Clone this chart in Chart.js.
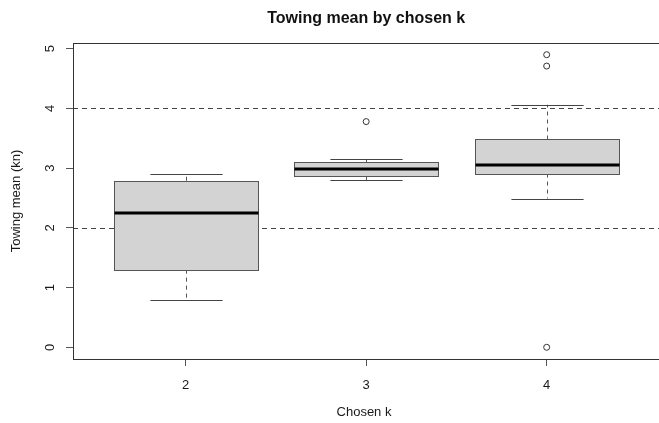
<!DOCTYPE html>
<html><head><meta charset="utf-8">
<script src="https://cdn.jsdelivr.net/npm/chart.js@4.4.1/dist/chart.umd.min.js"></script>
<style>html,body{margin:0;padding:0;background:#fff}#wrap{width:659px;height:423px}</style>
</head><body><div id="wrap"><canvas id="c" width="659" height="423"></canvas></div>
<script>
const categories = ['2', '3', '4'];
const positions = [2, 3, 4];
const whiskerLow = [0.8, 2.8, 2.49];
const q1 = [1.3, 2.87, 2.91];
const median = [2.25, 2.99, 3.05];
const q3 = [2.79, 3.1, 3.48];
const whiskerHigh = [2.9, 3.15, 4.06];
const outlierGroup = [3, 4, 4, 4];
const outlierValue = [3.78, 4.9, 4.71, 0.0];
const yTicks = [0, 1, 2, 3, 4, 5];
const refLines = [2, 4];
const titleText = 'Towing mean by chosen k';
const xTitle = 'Chosen k';
const yTitle = 'Towing mean (kn)';

const FONT = '"Liberation Sans", Arial, Helvetica, sans-serif';

const boxPlugin = {
  id: 'boxes',
  beforeDatasetsDraw(chart) {
    const {ctx, chartArea: a} = chart;
    const xs = chart.scales.x, ys = chart.scales.y;
    ctx.save();
    ctx.beginPath();
    ctx.rect(a.left, a.top, a.right - a.left + 10, a.bottom - a.top);
    ctx.clip();
    // reference lines
    ctx.strokeStyle = '#444';
    ctx.lineWidth = 1;
    ctx.setLineDash([5, 4]);
    refLines.forEach(v => {
      const y = Math.round(ys.getPixelForValue(v)) + 0.5;
      ctx.beginPath(); ctx.moveTo(a.left, y); ctx.lineTo(a.right + 10, y); ctx.stroke();
    });
    positions.forEach((p, i) => {
      const xc = Math.round(xs.getPixelForValue(p)) + 0.5;
      const hw = xs.getPixelForValue(p + 0.4) - xs.getPixelForValue(p);
      const cw = hw / 2;
      const yLo = ys.getPixelForValue(whiskerLow[i]);
      const yQ1 = ys.getPixelForValue(q1[i]);
      const yMed = ys.getPixelForValue(median[i]);
      const yQ3 = ys.getPixelForValue(q3[i]);
      const yHi = ys.getPixelForValue(whiskerHigh[i]);
      // whiskers
      ctx.strokeStyle = '#555';
      ctx.lineWidth = 1;
      ctx.setLineDash([4, 4]);
      ctx.beginPath(); ctx.moveTo(xc, yQ3); ctx.lineTo(xc, yHi); ctx.stroke();
      ctx.beginPath(); ctx.moveTo(xc, yQ1); ctx.lineTo(xc, yLo); ctx.stroke();
      ctx.setLineDash([]);
      ctx.strokeStyle = '#444';
      ctx.beginPath(); ctx.moveTo(xc - cw, Math.round(yHi) + 0.5); ctx.lineTo(xc + cw, Math.round(yHi) + 0.5); ctx.stroke();
      ctx.beginPath(); ctx.moveTo(xc - cw, Math.round(yLo) + 0.5); ctx.lineTo(xc + cw, Math.round(yLo) + 0.5); ctx.stroke();
      // box
      const bx = Math.round(xc - hw) + 0.5, bw = Math.round(2 * hw);
      const by = Math.round(yQ3) + 0.5, bh = Math.round(yQ1) - Math.round(yQ3);
      ctx.fillStyle = '#d3d3d3';
      ctx.fillRect(bx, by, bw, bh);
      ctx.strokeStyle = '#555';
      ctx.strokeRect(bx, by, bw, bh);
      // median
      ctx.strokeStyle = '#000';
      ctx.lineWidth = 3;
      ctx.beginPath(); ctx.moveTo(bx, Math.round(yMed)); ctx.lineTo(bx + bw, Math.round(yMed)); ctx.stroke();
    });
    ctx.restore();
  },
  afterDraw(chart) {
    const {ctx, chartArea: a} = chart;
    const xs = chart.scales.x;
    ctx.save();
    // frame (right side lies outside the canvas)
    ctx.strokeStyle = '#333';
    ctx.lineWidth = 1;
    ctx.strokeRect(Math.round(a.left) + 0.5, Math.round(a.top) + 0.5, a.right - a.left + 20, Math.round(a.bottom) - Math.round(a.top));
    // title centered over the plot
    ctx.fillStyle = '#111';
    ctx.font = 'bold 16px ' + FONT;
    ctx.textAlign = 'center';
    ctx.textBaseline = 'middle';
    ctx.fillText(titleText, xs.getPixelForValue(positions[1]), 19);
    ctx.restore();
  }
};

new Chart(document.getElementById('c'), {
  type: 'scatter',
  data: {
    datasets: [{
      data: outlierGroup.map((g, i) => ({x: g, y: outlierValue[i]})),
      pointRadius: 3,
      pointHoverRadius: 3,
      pointBorderWidth: 1,
      pointBorderColor: '#333',
      pointBackgroundColor: 'rgba(0,0,0,0)'
    }]
  },
  options: {
    responsive: false,
    devicePixelRatio: 1,
    animation: false,
    layout: {padding: {top: 43, left: 0, right: 0, bottom: 0}},
    plugins: {legend: {display: false}, title: {display: false}, tooltip: {enabled: false}},
    scales: {
      x: {
        type: 'linear', min: 1.376, max: 4.6,
        afterBuildTicks: s => { s.ticks = positions.map(v => ({value: v})); },
        afterFit: s => { s.height = 64; },
        ticks: {
          callback: (v, i) => categories[i],
          padding: 12, maxRotation: 0, autoSkip: false,
          color: '#1a1a1a', font: {family: FONT, size: 13}
        },
        grid: {drawOnChartArea: false, drawTicks: true, tickLength: 7, tickColor: '#555', tickWidth: 1},
        border: {display: false},
        title: {display: true, text: xTitle, color: '#1a1a1a', font: {family: FONT, size: 13}, padding: {top: 0, bottom: 3}}
      },
      y: {
        type: 'linear', min: -0.196, max: 5.096,
        afterBuildTicks: s => { s.ticks = yTicks.map(v => ({value: v})); },
        afterFit: s => { s.width = 73; },
        ticks: {
          callback: (v, i) => String(yTicks[i]),
          minRotation: 90, maxRotation: 90, crossAlign: 'center',
          padding: 12, color: '#1a1a1a', font: {family: FONT, size: 13}
        },
        grid: {drawOnChartArea: false, drawTicks: true, tickLength: 7, tickColor: '#555', tickWidth: 1},
        border: {display: false},
        title: {display: true, text: yTitle, color: '#1a1a1a', font: {family: FONT, size: 13}, padding: {top: 9, bottom: 0}}
      }
    }
  },
  plugins: [boxPlugin]
});
</script>
</body></html>
